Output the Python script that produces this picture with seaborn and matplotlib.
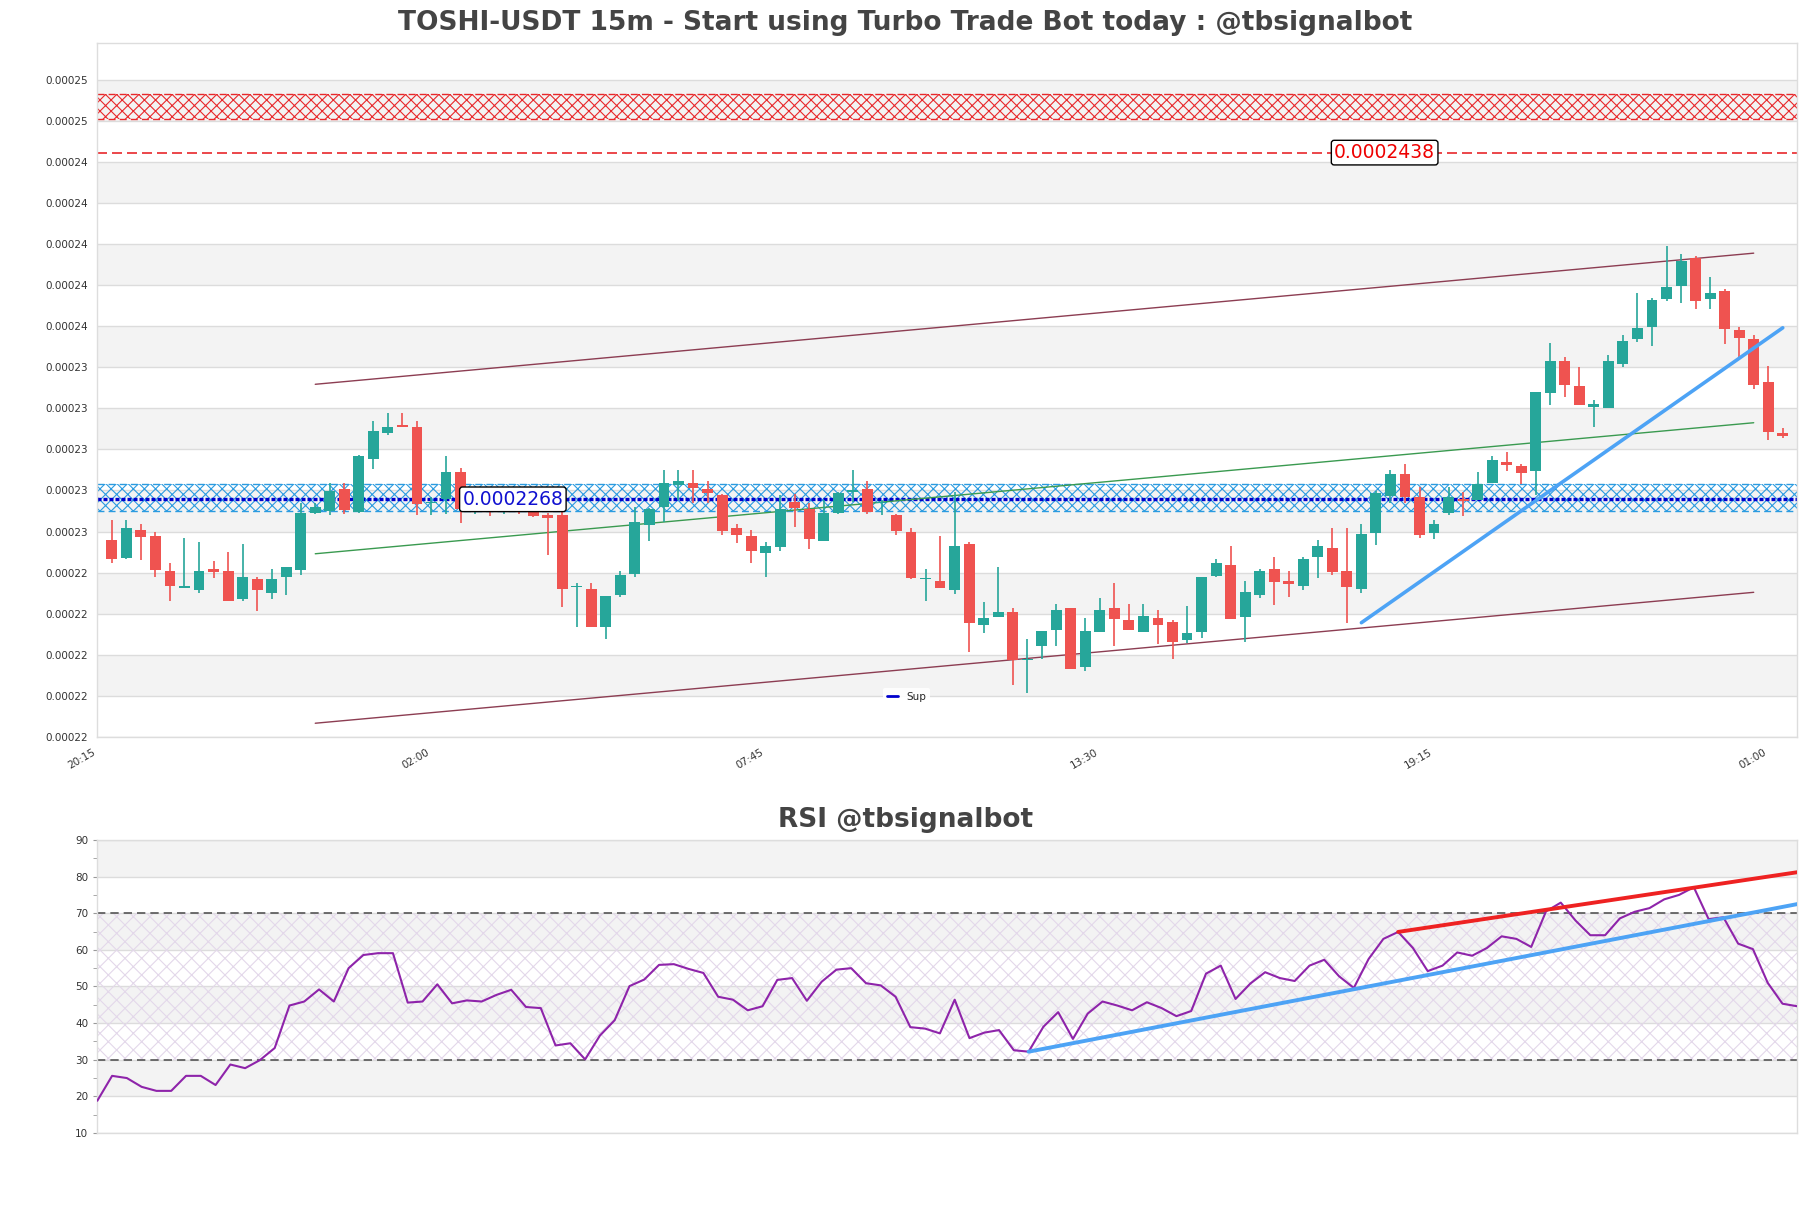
import numpy as np
import matplotlib
matplotlib.use("Agg")
import matplotlib.pyplot as plt
from matplotlib.lines import Line2D
from matplotlib.ticker import MultipleLocator
import seaborn as sns

# OHLC, in 1e-7 USDT (15m candles, first one at 20:30)
opens = [2248.0, 2239.2, 2253.0, 2250.0, 2232.9, 2224.7, 2223.5, 2233.8, 2232.9, 2219.0,
         2228.8, 2222.2, 2229.7, 2233.3, 2261.1, 2262.4, 2273.2, 2261.8, 2287.9, 2300.3,
         2304.3, 2303.5, 2266.0, 2268.0, 2281.4, 2262.0, 2264.0, 2262.0, 2264.0, 2262.8,
         2260.3, 2260.3, 2224.9, 2223.9, 2205.6, 2221.3, 2231.6, 2255.6, 2264.1, 2274.9,
         2275.8, 2272.9, 2270.0, 2253.8, 2250.0, 2241.8, 2244.8, 2266.7, 2263.1, 2247.7,
         2261.1, 2271.8, 2272.9, 2266.1, 2260.2, 2252.0, 2228.8, 2228.0, 2223.6, 2246.1,
         2206.6, 2210.5, 2212.6, 2189.0, 2196.1, 2203.9, 2214.6, 2186.0, 2203.1, 2214.6,
         2208.8, 2203.1, 2209.7, 2207.9, 2199.0, 2203.1, 2230.4, 2235.8, 2210.5, 2221.3,
         2233.8, 2227.8, 2225.5, 2239.5, 2244.1, 2232.8, 2223.8, 2251.6, 2269.6, 2280.4,
         2268.9, 2251.6, 2261.1, 2268.0, 2267.6, 2275.9, 2286.3, 2284.3, 2282.0, 2320.3,
         2335.8, 2323.5, 2313.1, 2312.9, 2334.3, 2346.4, 2352.6, 2366.3, 2372.7, 2386.3,
         2366.3, 2370.1, 2351.0, 2346.6, 2325.5, 2300.3]
highs = [2257.9, 2257.9, 2255.9, 2252.0, 2236.9, 2248.9, 2247.1, 2237.8, 2242.2, 2246.1,
         2230.1, 2233.7, 2234.7, 2266.4, 2266.4, 2275.8, 2275.8, 2289.7, 2306.4, 2310.5,
         2310.3, 2306.4, 2269.0, 2289.2, 2283.2, 2266.0, 2266.0, 2266.0, 2267.0, 2263.5,
         2261.1, 2262.5, 2226.8, 2226.8, 2220.6, 2232.9, 2264.1, 2263.6, 2282.2, 2282.2,
         2282.2, 2277.0, 2270.5, 2255.9, 2253.0, 2247.1, 2270.1, 2270.8, 2266.0, 2267.7,
         2271.5, 2282.2, 2277.0, 2267.7, 2261.0, 2253.8, 2233.8, 2250.0, 2271.8, 2247.1,
         2217.7, 2235.0, 2214.9, 2199.5, 2203.4, 2216.7, 2214.6, 2209.7, 2219.5, 2227.0,
         2216.7, 2216.7, 2213.7, 2208.8, 2215.7, 2229.9, 2238.7, 2245.1, 2227.8, 2233.8,
         2239.7, 2232.9, 2239.7, 2248.0, 2253.9, 2253.9, 2255.9, 2272.2, 2282.4, 2285.3,
         2273.9, 2257.8, 2273.9, 2271.7, 2281.4, 2289.2, 2291.2, 2285.3, 2320.6, 2344.8,
         2337.6, 2332.7, 2316.7, 2338.7, 2348.7, 2369.3, 2366.5, 2392.2, 2388.2, 2387.2,
         2377.0, 2370.9, 2352.6, 2348.5, 2333.6, 2303.2]
lows = [2236.6, 2238.6, 2238.2, 2229.7, 2218.3, 2224.7, 2222.2, 2229.6, 2218.3, 2218.3,
        2213.4, 2219.3, 2221.1, 2230.7, 2260.8, 2260.1, 2260.8, 2261.5, 2283.0, 2299.4,
        2303.3, 2260.1, 2260.1, 2260.8, 2256.5, 2261.0, 2260.0, 2261.0, 2261.0, 2259.5,
        2240.5, 2215.4, 2205.6, 2205.6, 2199.4, 2220.3, 2229.8, 2247.7, 2256.9, 2267.7,
        2266.0, 2266.0, 2250.7, 2246.8, 2236.6, 2229.8, 2242.8, 2254.6, 2243.8, 2247.7,
        2260.8, 2266.9, 2261.0, 2260.2, 2250.7, 2228.8, 2218.3, 2224.7, 2221.4, 2193.3,
        2202.3, 2210.5, 2177.0, 2173.2, 2189.6, 2196.1, 2185.0, 2184.0, 2203.1, 2196.1,
        2203.9, 2203.1, 2197.1, 2189.6, 2197.7, 2200.2, 2230.1, 2209.5, 2198.2, 2219.5,
        2216.2, 2220.3, 2223.5, 2229.6, 2230.7, 2207.5, 2222.2, 2245.6, 2266.0, 2266.0,
        2248.8, 2248.7, 2260.1, 2259.8, 2267.6, 2275.9, 2282.0, 2275.5, 2270.1, 2314.2,
        2318.3, 2314.4, 2303.3, 2312.9, 2332.7, 2345.2, 2343.3, 2365.3, 2364.4, 2361.4,
        2361.4, 2344.1, 2336.9, 2322.2, 2297.0, 2298.3]
closes = [2238.6, 2253.9, 2249.7, 2233.3, 2225.5, 2224.8, 2232.9, 2232.5, 2218.3, 2229.7,
          2223.5, 2228.8, 2234.7, 2261.1, 2264.4, 2272.2, 2262.8, 2289.2, 2301.5, 2303.5,
          2303.3, 2265.7, 2266.4, 2281.4, 2263.1, 2263.0, 2262.0, 2264.0, 2262.5, 2260.0,
          2258.7, 2223.9, 2225.0, 2205.6, 2220.6, 2230.9, 2256.7, 2263.1, 2276.0, 2277.0,
          2273.6, 2270.9, 2252.6, 2250.7, 2242.8, 2245.1, 2263.1, 2263.9, 2248.7, 2261.1,
          2271.1, 2272.6, 2262.0, 2266.6, 2252.6, 2229.6, 2229.0, 2224.7, 2245.1, 2207.5,
          2209.8, 2212.6, 2189.2, 2189.2, 2203.4, 2213.7, 2185.0, 2203.4, 2213.7, 2209.5,
          2203.9, 2210.8, 2206.6, 2198.2, 2202.6, 2229.9, 2236.8, 2209.5, 2222.6, 2232.9,
          2227.6, 2226.5, 2238.7, 2245.1, 2232.5, 2224.8, 2251.0, 2271.2, 2280.4, 2268.9,
          2250.6, 2255.9, 2268.9, 2267.0, 2275.5, 2287.3, 2285.0, 2281.0, 2320.6, 2335.8,
          2324.2, 2314.4, 2314.7, 2335.8, 2345.6, 2351.9, 2365.7, 2372.1, 2385.0, 2365.3,
          2369.1, 2351.6, 2347.2, 2324.2, 2301.1, 2299.2]

rsi = [18.8, 25.6, 25.0, 22.6, 21.5, 21.5, 25.6, 25.6, 23.1, 28.7,
       27.7, 29.9, 33.2, 44.8, 45.9, 49.2, 45.9, 55.0, 58.6, 59.1,
       59.1, 45.6, 45.9, 50.6, 45.4, 46.2, 45.9, 47.7, 49.1, 44.4,
       44.1, 33.9, 34.5, 30.1, 36.6, 40.8, 50.1, 51.9, 55.9, 56.1,
       54.8, 53.7, 47.2, 46.4, 43.5, 44.6, 51.8, 52.3, 46.1, 51.3,
       54.6, 55.0, 50.9, 50.3, 47.2, 38.9, 38.5, 37.2, 46.4, 35.9,
       37.4, 38.1, 32.6, 32.2, 39.0, 43.0, 35.7, 42.6, 45.9, 44.8,
       43.5, 45.7, 44.1, 41.9, 43.3, 53.5, 55.7, 46.6, 50.8, 53.9,
       52.3, 51.5, 55.7, 57.3, 52.8, 49.6, 57.5, 63.0, 64.9, 60.5,
       54.2, 55.7, 59.3, 58.4, 60.5, 63.7, 63.0, 60.8, 70.5, 72.9,
       68.0, 64.0, 64.0, 68.6, 70.4, 71.4, 73.8, 75.0, 77.1, 68.4,
       68.9, 61.7, 60.2, 51.0, 45.3, 44.6]

time_labels = ['20:15', '02:00', '07:45', '13:30', '19:15', '01:00']
time_idx = [0, 23, 46, 69, 92, 115]

# levels (1e-7 USDT)
sup_level = 2268
res_level = 2438
sup_zone = (2262.4, 2275.5)
res_zone = (2454.3, 2466.6)
# price channel: start/end bar, upper and lower values
chan_x = (15, 114)
chan_upper = (2324.4, 2388.7)
chan_lower = (2158.2, 2222.4)
trend_x = (87, 116)
trend_y = (2207.5, 2352.1)
# RSI trend lines
rsi_sup_x, rsi_sup_y = (63, 115), (32.2, 72.5)
rsi_res_x, rsi_res_y = (88, 115), (64.9, 81.2)

sc = 1e-7
o = np.array(opens) * sc
h = np.array(highs) * sc
l = np.array(lows) * sc
c = np.array(closes) * sc
x = np.arange(1, len(o) + 1)

sns.set_style("white")
plt.rcParams['font.family'] = ['DejaVu Sans']
plt.rcParams['hatch.linewidth'] = 0.8

fig = plt.figure(figsize=(18.11, 12.08), dpi=100)
ax = fig.add_axes([0.05373, 0.3899, 0.9387, 0.57425])
ax2 = fig.add_axes([0.05373, 0.06209, 0.9387, 0.24255])

grey = '#f3f3f3'
gridc = '#dcdcdc'

# ---- price panel ----
ybot = 2151.45 * sc
ystep = 20.146 * sc
yticks = ybot + ystep * np.arange(17)
ax.set_ylim(ybot, 2491.6 * sc)
ax.set_xlim(0, len(o) + 1)
for k in range(1, 16, 2):
    ax.axhspan(yticks[k], yticks[k + 1], color=grey, lw=0, zorder=0)
for t in yticks:
    ax.axhline(t, color=gridc, lw=1, zorder=0.5)

# zones
ax.fill_between([0, len(o) + 1], res_zone[0] * sc, res_zone[1] * sc, facecolor='none',
                edgecolor='#e8282b', hatch='xxx', lw=0, zorder=1)
for v in res_zone:
    ax.axhline(v * sc, color='#e8282b', lw=1, ls=(0, (5, 3)), zorder=1)
ax.fill_between([0, len(o) + 1], sup_zone[0] * sc, sup_zone[1] * sc, facecolor='none',
                edgecolor='#2b9be0', hatch='xxx', lw=0, zorder=1)
for v in sup_zone:
    ax.axhline(v * sc, color='#2b9be0', lw=1, ls=(0, (5, 3)), zorder=1)
ax.axhline(res_level * sc, color='#e8282b', lw=1.2, ls=(0, (6, 3)), zorder=1.5)
ax.axhline(sup_level * sc, color='#0000cc', lw=2.4, ls=(0, (1.2, 0.6)), zorder=1.5)

# channel
mid = ((chan_upper[0] + chan_lower[0]) / 2, (chan_upper[1] + chan_lower[1]) / 2)
ax.plot(chan_x, np.array(chan_upper) * sc, color='#8c3d52', lw=1, zorder=2)
ax.plot(chan_x, np.array(chan_lower) * sc, color='#8c3d52', lw=1, zorder=2)
ax.plot(chan_x, np.array(mid) * sc, color='#3a9a50', lw=1, zorder=2)

# candles
up = c >= o
cols = np.where(up, '#26a69a', '#ef5350')
body = np.maximum(np.abs(c - o), 0.6 * sc)
ax.vlines(x, l, h, colors=cols, lw=1.2, zorder=3)
ax.bar(x, body, bottom=np.minimum(o, c), width=0.75, color=cols, lw=0, zorder=3)

sns.lineplot(x=list(trend_x), y=np.array(trend_y) * sc, ax=ax, color='#4da3f5', lw=2.6, zorder=4)

ax.text(28.6, sup_level * sc, '0.0002268', color='#1010d0', fontsize=13.5, ha='center', va='center',
        zorder=6, bbox=dict(boxstyle='round,pad=0.15', fc='white', ec='black', lw=1))
ax.text(88.6, res_level * sc, '0.0002438', color='#ee0000', fontsize=13.5, ha='center', va='center',
        zorder=6, bbox=dict(boxstyle='round,pad=0.15', fc='white', ec='black', lw=1))

ax.set_yticks(yticks)
ax.set_yticklabels([f'{t:.5f}' for t in yticks], fontsize=7.5, color='#333333')
ax.set_xticks(time_idx)
ax.set_xticklabels(time_labels, rotation=30, ha='right', fontsize=7.5, color='#333333')
ax.tick_params(axis='both', length=3, color='#bbbbbb', pad=4)
sup_handle = Line2D([], [], color='#0000cc', lw=2)
ax.legend([sup_handle], ['Sup'], loc='center', bbox_to_anchor=(0.476, 0.058), fontsize=7.5,
          frameon=True, facecolor='white', edgecolor='none', framealpha=0.9, handlelength=1.0)

# ---- RSI panel ----
ax2.set_ylim(10, 90)
ax2.set_xlim(0, len(rsi) - 1)
for lo in (20, 40, 60, 80):
    ax2.axhspan(lo, lo + 10, color=grey, lw=0, zorder=0)
for t in range(10, 91, 10):
    ax2.axhline(t, color=gridc, lw=1, zorder=0.5)
ax2.fill_between([0, len(rsi) - 1], 30, 70, facecolor='none', edgecolor='#e3d8ea',
                 hatch='xx', lw=0, zorder=1)
ax2.axhline(30, color='#555555', lw=1.2, ls=(0, (5, 3)), zorder=2)
ax2.axhline(70, color='#555555', lw=1.2, ls=(0, (5, 3)), zorder=2)
sns.lineplot(x=np.arange(len(rsi)), y=rsi, ax=ax2, color='#8e24aa', lw=1.5, zorder=3)
ax2.plot(rsi_sup_x, rsi_sup_y, color='#4da3f5', lw=2.8, zorder=4)
ax2.plot(rsi_res_x, rsi_res_y, color='#ee2222', lw=2.8, zorder=4)
ax2.set_yticks(range(10, 91, 10))
ax2.set_yticklabels([str(t) for t in range(10, 91, 10)], fontsize=7.5, color='#333333')
ax2.yaxis.set_minor_locator(MultipleLocator(5))
ax2.set_xticks([])
ax2.tick_params(axis='y', which='both', length=3, color='#999999', left=True)

for a in (ax, ax2):
    for s in a.spines.values():
        s.set_color('#dddddd')
        s.set_linewidth(1)

fig.text(0.5, 1 - 23 / 1208, 'TOSHI-USDT 15m - Start using Turbo Trade Bot today : @tbsignalbot',
         ha='center', va='center', fontsize=19, fontweight='bold', color='#444444')
fig.text(0.5, 1 - 820 / 1208, 'RSI @tbsignalbot', ha='center', va='center',
         fontsize=19, fontweight='bold', color='#444444')

fig.savefig('out.png', dpi=100, facecolor='white')
